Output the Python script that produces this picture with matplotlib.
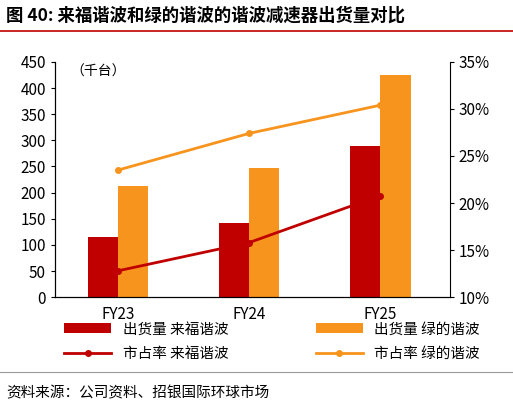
import matplotlib
matplotlib.use("Agg")
import matplotlib.pyplot as plt
from matplotlib.ticker import FuncFormatter
import numpy as np

plt.rcParams['font.family'] = ['Noto Sans CJK SC', 'DejaVu Sans']

cats = ["FY23", "FY24", "FY25"]
laifu_ship = [115, 142, 290]
lvde_ship = [212, 247, 425]
laifu_share = [12.8, 15.8, 20.8]
lvde_share = [23.5, 27.4, 30.4]

red = "#C00000"
orange = "#F7941D"

fig = plt.figure(figsize=(5.13, 4.18), dpi=100)
ax = fig.add_axes([0.107, 0.289, 0.77, 0.563])
x = np.arange(len(cats))
w = 0.23
b1 = ax.bar(x - w/2, laifu_ship, w, color=red, label="出货量 来福谐波")
b2 = ax.bar(x + w/2, lvde_ship, w, color=orange, label="出货量 绿的谐波")
ax.set_ylim(0, 450)
ax.set_yticks(range(0, 451, 50))
ax.set_xlim(-0.48, 2.53)
ax.set_xticks(x)
ax.set_xticklabels(cats)
ax2 = ax.twinx()
l1, = ax2.plot(x, laifu_share, color=red, lw=2, marker='o', ms=4, label="市占率 来福谐波")
l2, = ax2.plot(x, lvde_share, color=orange, lw=2, marker='o', ms=4, label="市占率 绿的谐波")
ax2.set_ylim(10, 35)
ax2.set_yticks(range(10, 36, 5))
ax2.yaxis.set_major_formatter(FuncFormatter(lambda v, p: f"{v:.0f}%"))
for a in (ax, ax2):
    a.spines["top"].set_visible(False)
    a.tick_params(labelsize=11, direction='out', length=3)
ax.spines['right'].set_visible(False)
ax.tick_params(axis='x', length=0, pad=6)
ax.text(0.04, 0.99, "（千台）", transform=ax.transAxes, fontsize=10, va='top')

fig.legend(handles=[b1, l1, b2, l2], ncol=2, loc='upper left', bbox_to_anchor=(0.1, 0.26),
           frameon=False, fontsize=10.5, columnspacing=6, handlelength=3.2, labelspacing=0.7)

fig.text(0.012, 0.962, "图 40: 来福谐波和绿的谐波的谐波减速器出货量对比", fontsize=12.5,
         fontweight='bold', va='center')
fig.add_artist(plt.Line2D([0.0, 1.0], [0.925, 0.925], color=red, lw=1.2))
fig.add_artist(plt.Line2D([0.0, 1.0], [0.11, 0.11], color="#999999", lw=0.8))
fig.text(0.012, 0.06, "资料来源：公司资料、招银国际环球市场", fontsize=10.5, va='center')
fig.savefig("out.png", dpi=100)
